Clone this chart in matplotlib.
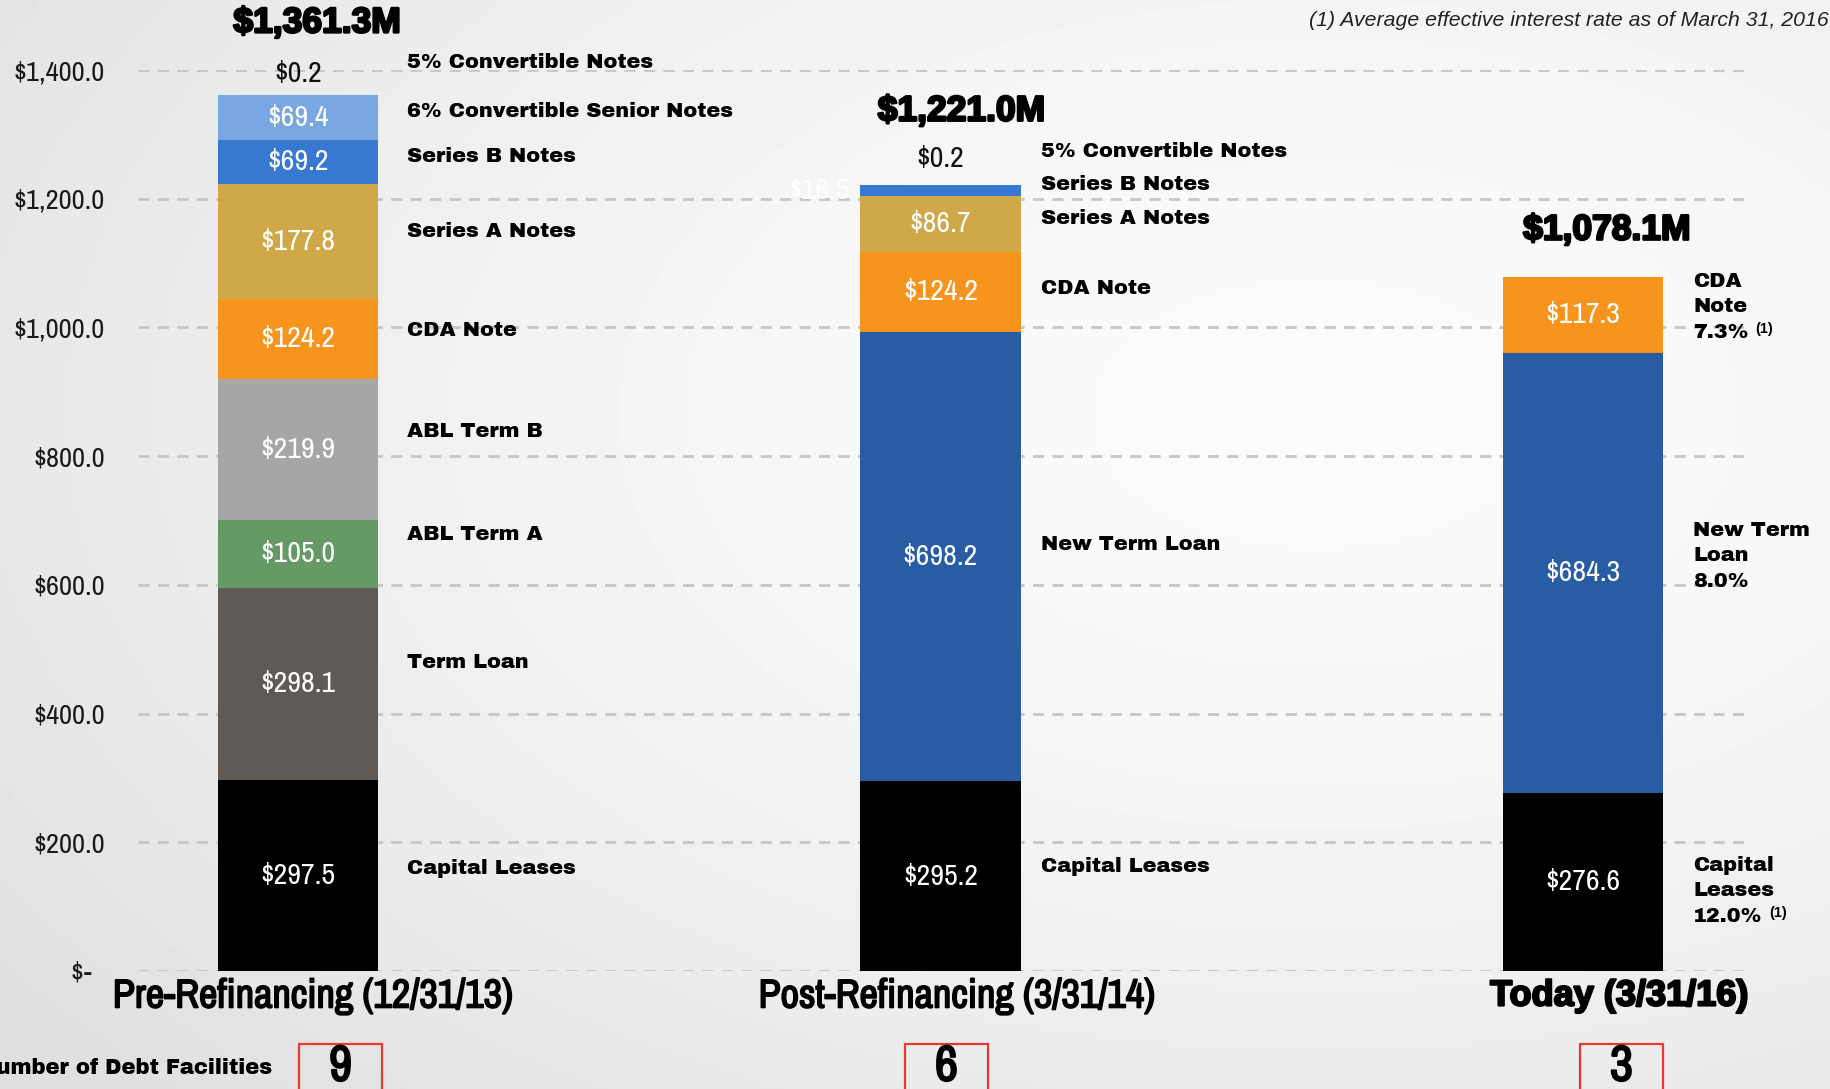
import numpy as np
import matplotlib
matplotlib.use('Agg')
import matplotlib.pyplot as plt
from matplotlib.patches import Rectangle
import matplotlib.patheffects as pe

# ---------------- data ----------------
categories = ['Pre-Refinancing (12/31/13)', 'Post-Refinancing (3/31/14)', 'Today (3/31/16)']

pre_names = ['Capital Leases', 'Term Loan', 'ABL Term A', 'ABL Term B', 'CDA Note',
             'Series A Notes', 'Series B Notes', '6% Convertible Senior Notes', '5% Convertible Notes']
pre_values = [297.5, 298.1, 105.0, 219.9, 124.2, 177.8, 69.2, 69.4, 0.2]

post_names = ['Capital Leases', 'New Term Loan', 'CDA Note', 'Series A Notes',
              'Series B Notes', '5% Convertible Notes']
post_values = [295.2, 698.2, 124.2, 86.7, 16.5, 0.2]

today_names = ['Capital Leases', 'New Term Loan', 'CDA Note']
today_label_lines = [['Capital', 'Leases', '12.0%'], ['New Term', 'Loan', '8.0%'], ['CDA', 'Note', '7.3%']]
today_footnoted = [True, False, True]
today_values = [276.6, 684.3, 117.3]

totals = ['$1,361.3M', '$1,221.0M', '$1,078.1M']
facilities = ['9', '6', '3']
y_ticks = [0, 200, 400, 600, 800, 1000, 1200, 1400]
y_tick_labels = ['$-  ', '$200.0', '$400.0', '$600.0', '$800.0', '$1,000.0', '$1,200.0', '$1,400.0']
footnote = '(1) Average effective interest rate as of March 31, 2016'
facilities_label = 'Number of Debt Facilities'

# ---------------- style ----------------
colors = {
    'Capital Leases': '#000000',
    'Term Loan': '#5f5a56',
    'ABL Term A': '#659a66',
    'ABL Term B': '#a6a6a6',
    'CDA Note': '#f7941e',
    'Series A Notes': '#d0a847',
    'Series B Notes': '#3778d0',
    '6% Convertible Senior Notes': '#79a7e1',
    '5% Convertible Notes': '#2a5ea4',
    'New Term Loan': '#285da3',
}
NARROW = ['Archivo Narrow', 'Liberation Sans Narrow', 'Liberation Sans', 'DejaVu Sans']
SANS = ['Liberation Sans', 'DejaVu Sans']
HEAVY = ['Archivo Black', 'Liberation Sans', 'DejaVu Sans']

W, H, DPI = 1831, 1089, 100
PT = 72.0 / DPI  # points per pixel

fig = plt.figure(figsize=(W / DPI, H / DPI), dpi=DPI)

# background gradient
bg = fig.add_axes([0, 0, 1, 1], zorder=-10)
yy, xx = np.mgrid[0:1:300j, 0:1:500j]
r = np.sqrt(((xx - 0.72) / 0.9) ** 2 + ((yy - 0.62) / 0.9) ** 2)
val = 0.985 - 0.11 * np.clip(r, 0, 1) ** 1.6
bg.imshow(val, cmap='gray', vmin=0, vmax=1, aspect='auto', extent=[0, 1, 0, 1], origin='lower')
bg.axis('off')

# main axes
x0_px, x1_px, y0_px, y1_px = 138, 1746, 971, 70
ax = fig.add_axes([x0_px / W, (H - y0_px) / H, (x1_px - x0_px) / W, (y0_px - y1_px) / H])
ax.patch.set_alpha(0)
bw = 0.25
ax.set_xlim(-0.249, 2.254)
ax.set_ylim(0, 1400)
for s in ax.spines.values():
    s.set_visible(False)
ax.set_xticks([])
ax.set_yticks(y_ticks)
ax.set_yticklabels(y_tick_labels, fontfamily=NARROW, fontsize=20.5, color='#1a1a1a')
ax.tick_params(axis='y', length=0, pad=24)
for t in y_ticks:
    ax.axhline(t, color='#c6c6c6', lw=2, ls=(0, (4, 3)), zorder=0)

series = [(pre_names, pre_values), (post_names, post_values), (today_names, today_values)]

label_dx_px = [29, 20, 30]
label_dy_px = [
    [7, 21, 19, 18, 8, 10, 5, 6, 32],
    [10, 12, 3, 5, 6, 34],
    [-9, 17, 8],
]
small_dy_px = [21, 27]
total_dx_px = [19, 21, 24]
total_dy_px = [72, 74, 47]

seg_font = dict(fontfamily=HEAVY, fontsize=15.0, color='black')

for i, (names, vals) in enumerate(series):
    bottom = 0.0
    for j, (n, v) in enumerate(zip(names, vals)):
        ax.bar(i, v, bottom=bottom, width=bw, color=colors[n], edgecolor='none', zorder=2)
        c = bottom + v / 2.0
        # value labels
        if v >= 50:
            ax.text(i, c, f'${v:.1f}', ha='center', va='center', color='white',
                    fontfamily=NARROW, fontsize=21.5, zorder=3)
        elif v < 1:
            ax.annotate(f'${v:.1f}', (i, c), xytext=(0, small_dy_px[i] * PT), textcoords='offset points',
                        ha='center', va='center', color='#111111', fontfamily=NARROW, fontsize=21.5,
                        annotation_clip=False)
        else:
            ax.annotate(f'${v:.1f}', (i - bw / 2, c), xytext=(-41 * PT, 0), textcoords='offset points',
                        ha='center', va='center', color='white', fontfamily=NARROW, fontsize=21.5,
                        annotation_clip=False)
        # segment name labels
        if i < 2:
            ax.annotate(n, (i + bw / 2, c), xytext=(label_dx_px[i] * PT, label_dy_px[i][j] * PT),
                        textcoords='offset points', ha='left', va='center',
                        annotation_clip=False, **seg_font)
        else:
            lines = today_label_lines[j]
            for k, line in enumerate(lines):
                dy = (label_dy_px[i][j] + (1 - k) * 25.7) * PT
                t = ax.annotate(line, (i + bw / 2, c), xytext=(label_dx_px[i] * PT, dy),
                                textcoords='offset points', ha='left', va='center',
                                annotation_clip=False, **seg_font)
                if k == len(lines) - 1 and today_footnoted[j]:
                    t.set_gid(f'fn{j}')
        bottom += v
    total = sum(vals)
    ax.annotate(totals[i], (i, total), xytext=(total_dx_px[i] * PT, total_dy_px[i] * PT),
                textcoords='offset points', ha='center', va='center', fontfamily=SANS,
                fontweight='bold', fontsize=25.5, color='black', annotation_clip=False,
                path_effects=[pe.withStroke(linewidth=1.8, foreground='black')])

# superscript footnote markers for "Today" labels
fig.canvas.draw()
renderer = fig.canvas.get_renderer()
for t in list(ax.texts):
    gid = t.get_gid()
    if gid and gid.startswith('fn'):
        bb = t.get_window_extent(renderer)
        fig.text((bb.x1 + 7) / W, (bb.y1 + 1) / H, '(1)', ha='left', va='top',
                 fontfamily=SANS, fontweight='bold', fontsize=10.5, color='black')

# category labels
cat_x_px = [313, 957, 1619]
cat_family = [NARROW, NARROW, SANS]
cat_size = [29, 29, 26]
cat_stroke = [1.2, 1.2, 1.6]
for i, cat in enumerate(categories):
    fig.text(cat_x_px[i] / W, 1 - 996 / H, cat, ha='center', va='center', fontfamily=cat_family[i],
             fontweight='bold', fontsize=cat_size[i], color='black',
             path_effects=[pe.withStroke(linewidth=cat_stroke[i], foreground='black')])

# number of debt facilities
fig.text(272 / W, 1 - 1068 / H, facilities_label, ha='right', va='center', fontfamily=HEAVY,
         fontsize=15.2, color='black')
box_x_px = [299, 905, 1580]
for i, f in enumerate(facilities):
    rect = Rectangle((box_x_px[i] / W, 0 - 0.01), 83 / W, (1089 - 1044) / H + 0.01,
                     transform=fig.transFigure, fill=False, edgecolor='#e83a35', lw=1.6)
    fig.add_artist(rect)
    fig.text((box_x_px[i] + 41.5) / W, 1 - 1067 / H, f, ha='center', va='center', fontfamily=NARROW,
             fontweight='bold', fontsize=36, color='black',
             path_effects=[pe.withStroke(linewidth=1.5, foreground='black')])

# footnote
fig.text(1829 / W, 1 - 21 / H, footnote, ha='right', va='center', fontfamily=SANS,
         style='italic', fontsize=15.3, color='#222222')

fig.savefig('out.png', dpi=DPI)
